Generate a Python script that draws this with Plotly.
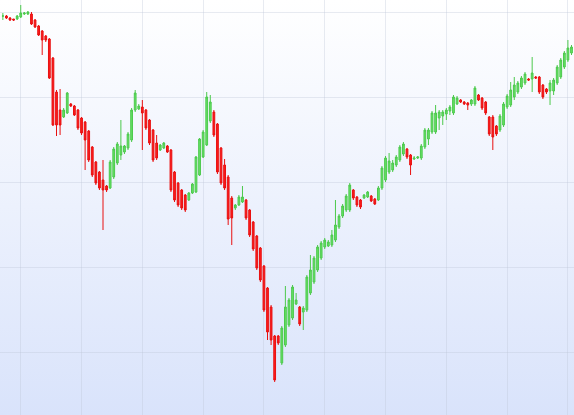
import base64
import plotly.graph_objects as go

opens = [384,384,382,381,381,383,386,386,386,380,374,369,364,361,342,308,290,283,287,296,
         294,290,282,278,269,253,238,228,220,214,212,223,237,245,248,252,260,290,291,293,
         290,280,270,257,250,252,254,250,228,217,210,205,200,207,208,225,243,255,279,288,
         276,252,235,223,202,192,195,198,200,190,178,164,152,134,112,93,64,64,37,55,
         75,82,96,93,88,90,107,118,130,142,153,154,155,160,173,184,190,190,210,203,
         200,202,203,204,201,200,212,220,228,230,235,240,246,251,245,241,242,242,253,261,
         268,268,282,284,286,289,287,296,300,298,297,296,296,305,302,298,283,283,274,270,
         275,293,295,303,308,313,317,321,321,323,323,315,311,309,309,317,323,333,340,347]
closes = [384,382,380,380,384,387,387,388,376,373,365,360,360,322,275,275,275,290,307,294,
          285,272,267,260,240,225,217,212,210,210,238,251,256,254,254,266,290,307,294,287,
          272,257,240,242,255,257,248,210,200,195,192,190,207,216,243,261,268,303,298,265,
          228,217,212,181,182,195,203,203,182,165,151,132,120,90,68,60,20,57,72,93,
          100,113,100,76,92,123,130,142,153,157,160,158,165,175,184,194,204,215,202,195,
          193,205,208,199,196,212,232,242,239,237,243,253,256,243,235,242,243,254,270,270,
          287,287,288,288,290,293,303,302,298,296,295,300,312,300,292,287,266,263,266,284,
          296,304,310,315,317,322,326,320,327,322,308,303,308,317,320,333,340,347,352,353]
highs = [387,385,383,381,385,395,388,389,388,381,375,370,365,362,343,310,311,292,308,297,
         295,291,283,279,270,254,239,229,240,215,240,253,258,280,255,268,292,310,296,300,
         291,281,271,265,256,258,255,251,229,218,211,206,208,217,244,262,270,308,305,290,
         277,253,241,225,204,196,205,214,201,191,179,165,153,135,113,95,65,65,74,114,
         102,115,107,94,94,125,145,144,155,159,162,160,170,200,186,196,206,217,211,204,
         201,206,209,205,202,214,234,244,247,240,245,255,258,252,246,244,244,256,272,272,
         289,295,290,290,292,295,305,304,301,299,298,301,314,306,303,299,284,285,275,286,
         298,306,318,323,319,324,328,322,343,324,324,316,312,320,322,335,342,349,360,355]
lows = [380,381,379,379,380,382,385,385,375,372,364,345,358,321,274,264,265,282,286,293,
        284,270,265,230,238,223,215,210,170,208,211,221,235,240,246,250,258,288,290,250,
        270,255,238,240,249,251,247,208,198,193,190,188,199,206,207,224,242,254,277,263,
        226,215,210,175,155,190,194,197,180,163,149,130,118,88,60,55,18,55,35,53,
        73,80,95,74,70,88,105,116,128,140,151,153,153,158,171,182,188,188,200,193,
        191,201,202,198,195,199,210,218,226,228,233,238,244,241,225,240,241,240,251,255,
        266,266,270,275,280,285,285,295,297,295,290,294,294,299,290,285,264,250,264,268,
        273,291,293,300,306,311,315,319,308,321,306,301,306,295,305,315,321,331,338,345]

x = list(range(len(opens)))

svg = ('<svg xmlns="http://www.w3.org/2000/svg" width="10" height="100" preserveAspectRatio="none">'
       '<defs><linearGradient id="g" x1="0" y1="0" x2="0" y2="1">'
       '<stop offset="0" stop-color="#ffffff"/><stop offset="1" stop-color="#d9e3fb"/>'
       '</linearGradient></defs><rect width="10" height="100" fill="url(#g)"/></svg>')
bg = "data:image/svg+xml;base64," + base64.b64encode(svg.encode()).decode()

fig = go.Figure(go.Candlestick(
    x=x, open=opens, high=highs, low=lows, close=closes,
    increasing=dict(line=dict(color="#4cc94c", width=1), fillcolor="#66e266"),
    decreasing=dict(line=dict(color="#e81010", width=1), fillcolor="#ff1c1c"),
    whiskerwidth=0, showlegend=False,
))

grid = "rgba(190,198,215,0.35)"
fig.update_layout(
    width=574, height=415,
    margin=dict(l=0, r=0, t=0, b=0),
    paper_bgcolor="white", plot_bgcolor="rgba(0,0,0,0)",
    images=[dict(source=bg, xref="paper", yref="paper", x=0, y=1, sizex=1, sizey=1,
                 sizing="stretch", layer="below")],
    xaxis=dict(range=[-0.8, len(x) - 0.3], showticklabels=False, rangeslider=dict(visible=False),
               showgrid=True, gridcolor=grid, tick0=5, dtick=17,
               zeroline=False, showline=False),
    yaxis=dict(range=[-15, 400], showticklabels=False, showgrid=True,
               gridcolor=grid, tick0=303, dtick=85,
               zeroline=False, showline=False),
)

fig.write_html("out.html", config={"displayModeBar": False},
               post_script="document.body.style.margin='0';")
